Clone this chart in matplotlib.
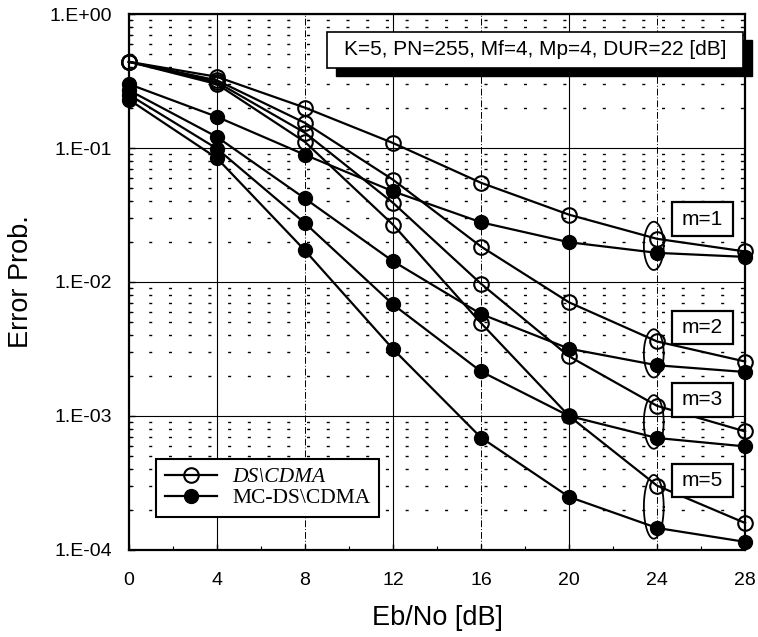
import numpy as np
import matplotlib
matplotlib.use("Agg")
import matplotlib.pyplot as plt
from matplotlib.patches import Rectangle
from matplotlib.lines import Line2D
from matplotlib.ticker import LogLocator, NullFormatter, FixedLocator

plt.rcParams['font.family'] = ['Liberation Sans', 'DejaVu Sans']

# Eb/No axis (dB)
ebno = [0, 4, 8, 12, 16, 20, 24, 28]

# DS-CDMA (open markers)
ds_m1 = [0.44, 0.34, 0.200, 0.109, 0.0550, 0.0318, 0.0210, 0.0169]
ds_m2 = [0.44, 0.32, 0.154, 0.058, 0.0184, 0.00705, 0.00360, 0.00255]
ds_m3 = [0.44, 0.31, 0.130, 0.039, 0.0097, 0.00279, 0.00119, 0.000767]
ds_m5 = [0.44, 0.30, 0.111, 0.0268, 0.00494, 0.00100, 0.000302, 0.000159]

# MC-DS-CDMA (filled markers)
mc_m1 = [0.30, 0.171, 0.089, 0.0475, 0.0279, 0.0198, 0.0165, 0.0154]
mc_m2 = [0.27, 0.121, 0.042, 0.0143, 0.00577, 0.00318, 0.00239, 0.00213]
mc_m3 = [0.25, 0.099, 0.0275, 0.0068, 0.00215, 0.00100, 0.000685, 0.000593]
mc_m5 = [0.23, 0.084, 0.0172, 0.00316, 0.00069, 0.000249, 0.000146, 0.000115]

m_labels = ['m=1', 'm=2', 'm=3', 'm=5']
ds_curves = [ds_m1, ds_m2, ds_m3, ds_m5]
mc_curves = [mc_m1, mc_m2, mc_m3, mc_m5]

yticks = [1e-4, 1e-3, 1e-2, 1e-1, 1e0]
ytick_labels = ['1.E-04', '1.E-03', '1.E-02', '1.E-01', '1.E+00']
xticks = [0, 4, 8, 12, 16, 20, 24, 28]

param_text = 'K=5, PN=255, Mf=4, Mp=4, DUR=22 [dB]'
legend_labels = ['DS\\CDMA', 'MC-DS\\CDMA']

fig = plt.figure(figsize=(7.58, 6.37), dpi=100)
ax = fig.add_axes([0.170, 0.1366, 0.813, 0.8414])
ax.set_yscale('log')
ax.set_xlim(0, 28)
ax.set_ylim(1e-4, 1)

# grid: decades solid, minor dashed; vertical alternates solid / dash-dot
ax.yaxis.set_minor_locator(LogLocator(base=10, subs=np.arange(2, 10)))
ax.yaxis.set_minor_formatter(NullFormatter())
ax.grid(which='major', axis='y', color='black', lw=0.8)
ax.grid(which='minor', axis='y', color='black', lw=1.0, linestyle=(0, (2.2, 12)))
for i, xv in enumerate(xticks[1:-1]):
    if i % 2 == 0:
        ax.axvline(xv, color='black', lw=0.8, zorder=0.5)
    else:
        ax.axvline(xv, color='black', lw=0.7, linestyle=(0, (7, 2, 1, 2)), zorder=0.5)

ax.set_yticks(yticks)
ax.set_yticklabels(ytick_labels)
ax.set_xticks(xticks)
ax.set_xticklabels([str(v) for v in xticks])
ax.xaxis.set_minor_locator(FixedLocator([v + 2 for v in xticks[:-1]]))
ax.tick_params(which='major', direction='in', length=4, width=1, labelsize=14)
ax.tick_params(axis='y', which='major', pad=12)
ax.tick_params(axis='x', which='major', pad=16)
ax.tick_params(which='minor', direction='in', length=3, width=0.8)
for s in ax.spines.values():
    s.set_linewidth(1.6)

for ds, mc in zip(ds_curves, mc_curves):
    ax.plot(ebno, ds, color='black', lw=1.6, marker='o', ms=10.5, mfc='none',
            mec='black', mew=1.5, clip_on=False, zorder=3)
    ax.plot(ebno, mc, color='black', lw=1.6, marker='o', ms=10, mfc='black',
            mec='black', clip_on=False, zorder=3)

# ellipses grouping each pair at 24 dB
t = np.linspace(0, 2 * np.pi, 120)
idx = ebno.index(24)
for ds, mc in zip(ds_curves, mc_curves):
    a, b = np.log10(ds[idx]), np.log10(mc[idx])
    lc = (a + b) / 2
    hh = max(0.18, 0.5 * abs(a - b) + 0.08)
    ax.plot(23.85 + 0.45 * np.cos(t), 10 ** (lc + hh * np.sin(t)),
            color='black', lw=1.3, zorder=4)

# m= labels
m_box_y = [0.6175, 0.415, 0.280, 0.129]
for lab, yc in zip(m_labels, m_box_y):
    ax.add_patch(Rectangle((0.881, yc - 0.031), 0.099, 0.062, transform=ax.transAxes,
                           fc='white', ec='black', lw=1.6, zorder=5))
    ax.text(0.9305, yc, lab, transform=ax.transAxes, ha='center', va='center',
            fontsize=15, zorder=6)

# parameter box with shadow
ax.add_patch(Rectangle((0.321 + 0.0146, 0.899 - 0.0149), 0.676, 0.067, transform=ax.transAxes,
                       fc='black', ec='black', clip_on=False, zorder=5))
ax.add_patch(Rectangle((0.321, 0.899), 0.676, 0.067, transform=ax.transAxes,
                       fc='white', ec='black', lw=1.2, clip_on=False, zorder=6))
ax.text(0.659, 0.933, param_text, transform=ax.transAxes, ha='center', va='center',
        fontsize=15, zorder=7)

handles = [
    Line2D([], [], color='black', lw=1.6, marker='o', ms=10.5, mfc='none', mew=1.5),
    Line2D([], [], color='black', lw=1.6, marker='o', ms=10, mfc='black'),
]
leg = ax.legend(handles, legend_labels, loc='lower left', bbox_to_anchor=(0.044, 0.0616),
                borderaxespad=0, prop={'family': 'Liberation Serif', 'size': 15.5},
                handlelength=2.45, handletextpad=0.7, labelspacing=0.05, borderpad=0.4,
                fancybox=False, framealpha=1, edgecolor='black')
leg.get_frame().set_linewidth(1.5)
leg.get_texts()[0].set_style('italic')
leg.set_zorder(8)

ax.set_xlabel('Eb/No [dB]', fontsize=19.5)
ax.set_ylabel('Error Prob.', fontsize=19.5)
ax.xaxis.set_label_coords(0.5, -0.1026)
ax.yaxis.set_label_coords(-0.154, 0.5)

fig.savefig('out.png', dpi=100)
